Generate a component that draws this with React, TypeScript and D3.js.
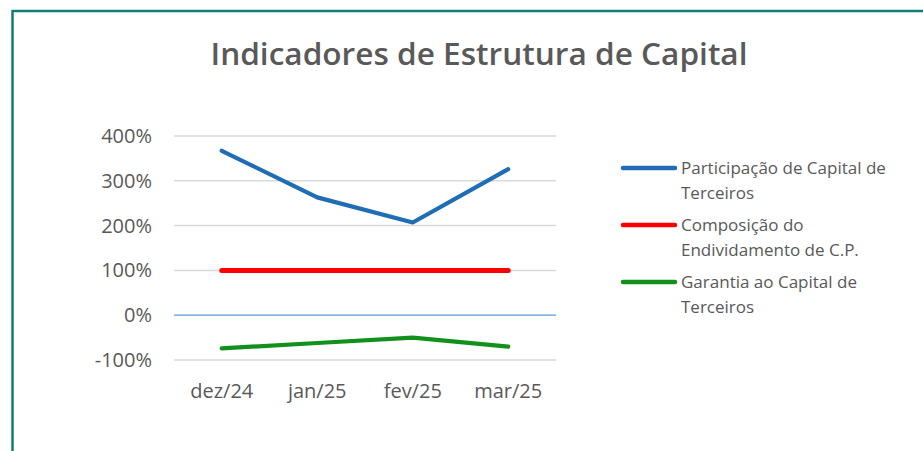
import React from 'react';
import * as d3 from 'd3';

const categories = ['dez/24', 'jan/25', 'fev/25', 'mar/25'];
const participacao = [3.67, 2.63, 2.07, 3.26];
const composicao = [1.0, 1.0, 1.0, 1.0];
const garantia = [-0.74, -0.62, -0.5, -0.7];
const yTicks = [-1, 0, 1, 2, 3, 4];

const seriesNames = [
  ['Participação de Capital de', 'Terceiros'],
  ['Composição do', 'Endividamento de C.P.'],
  ['Garantia ao Capital de', 'Terceiros'],
];
const seriesColors = ['#1f6db4', '#ff0000', '#12901c'];

const W = 923;
const H = 451;
const font = '"Open Sans", "Noto Sans", sans-serif';

// Excel style percent, with a plain hyphen for negatives
const pct = (v: number) => d3.format('.0%')(v).replace('\u2212', '-');

const App = () => {
  const x = d3.scalePoint().domain(categories).range([174, 556]).padding(0.5);
  const y = d3.scaleLinear().domain([-1, 4]).range([360, 136]);

  const line = d3
    .line<number>()
    .x((d, i) => x(categories[i]) as number)
    .y((d) => y(d));

  const allSeries = [participacao, composicao, garantia];

  return (
    <svg
      width={W}
      height={H}
      style={{ position: 'absolute', left: 0, top: 0, background: '#fff' }}
    >
      {/* frame */}
      <line x1={12} x2={W} y1={11} y2={11} stroke="#127c78" strokeWidth={2.5} />
      <line x1={12.5} x2={12.5} y1={10} y2={H} stroke="#127c78" strokeWidth={2.5} />

      <text
        x={479}
        y={65}
        textAnchor="middle"
        fontFamily={font}
        fontWeight={600}
        fontSize={30}
        fill="#595959"
        textLength={537}
        lengthAdjust="spacingAndGlyphs"
      >
        Indicadores de Estrutura de Capital
      </text>

      {/* grid */}
      {yTicks.map((t) => (
        <line
          key={t}
          x1={174}
          x2={556}
          y1={y(t)}
          y2={y(t)}
          stroke={t === 0 ? '#5b9bd5' : '#d9d9d9'}
          strokeWidth={t === 0 ? 1.2 : 1.5}
        />
      ))}

      {yTicks.map((t) => (
        <text
          key={'l' + t}
          x={152}
          y={y(t)}
          dy="0.35em"
          textAnchor="end"
          fontFamily={font}
          fontSize={20}
          fill="#595959"
        >
          {pct(t)}
        </text>
      ))}

      {categories.map((c) => (
        <text
          key={c}
          x={x(c)}
          y={398}
          textAnchor="middle"
          fontFamily={font}
          fontSize={20}
          fill="#595959"
        >
          {c}
        </text>
      ))}

      {allSeries.map((s, i) => (
        <path
          key={i}
          d={line(s) as string}
          fill="none"
          stroke={seriesColors[i]}
          strokeWidth={i === 1 ? 5 : 4.2}
          strokeLinecap="round"
          strokeLinejoin="round"
        />
      ))}

      {/* legend */}
      {seriesNames.map((names, i) => {
        const ly = 168 + i * 57;
        return (
          <g key={i}>
            <line
              x1={623}
              x2={675}
              y1={ly}
              y2={ly}
              stroke={seriesColors[i]}
              strokeWidth={4.5}
              strokeLinecap="round"
            />
            {names.map((n, j) => (
              <text
                key={j}
                x={681}
                y={ly + j * 25}
                dy="0.35em"
                fontFamily={font}
                fontSize={17}
                fill="#595959"
              >
                {n}
              </text>
            ))}
          </g>
        );
      })}
    </svg>
  );
};

export default App;
